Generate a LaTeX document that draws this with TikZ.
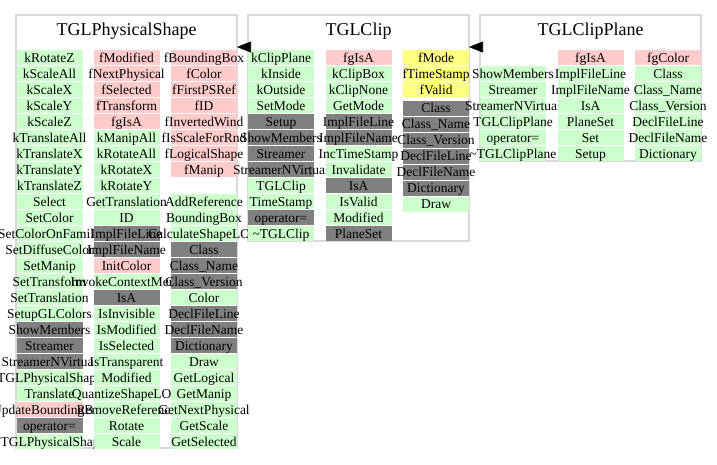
\documentclass[tikz,border=0pt]{standalone}
\usepackage{fontspec}
\setmainfont{Liberation Serif}
\usetikzlibrary{arrows.meta}
\definecolor{cgreen}{HTML}{CCFFCC}
\definecolor{cred}{HTML}{FFCCCC}
\definecolor{cgray}{HTML}{808080}
\definecolor{cyellow}{HTML}{FFFF80}
\definecolor{cframe}{HTML}{D9D9D9}
\tikzset{
  cell/.style={inner sep=0pt, outer sep=0pt, minimum width=66pt, minimum height=15pt,
    text height=12pt, text depth=3pt, font=\fontsize{13.5}{15}\selectfont},
  cg/.style={fill=cgreen}, cr/.style={fill=cred}, ck/.style={fill=cgray}, cy/.style={fill=cyellow},
  frame/.style={draw=cframe, line width=1.4pt, fill=white, inner sep=0pt, outer sep=0pt, anchor=north west},
  title/.style={anchor=base, inner sep=0pt, font=\fontsize{18}{20}\selectfont},
  inh/.style={-{Triangle[length=14pt,width=11pt]}, line width=0.6pt, black}
}
\newcommand\mycol[5]{%
  \foreach \t/\s [count=\i from #3] in {#5} {%
    \node[cell,\s] (#1-\i) at ({#2},{57.5+#4+16*\i}) {\makebox[66pt]{\t}};}}
\begin{document}
\begin{tikzpicture}[x=1pt,y=-1pt]
\useasboundingbox (0,0) rectangle (717,464);
% frames
\node[frame, minimum width=221pt, minimum height=433pt] (phys) at (16,15) {};
\node[frame, minimum width=221pt, minimum height=226pt] (clip) at (248,15) {};
\node[frame, minimum width=221pt, minimum height=146pt] (plane) at (480,15) {};
\node[title] (physT) at (126.5,35.5) {TGLPhysicalShape};
\node[title] (clipT) at (358.5,35.5) {TGLClip};
\node[title] (planeT) at (590.5,35.5) {TGLClipPlane};
% TGLPhysicalShape
\mycol{pa}{49.5}{0}{0}{kRotateZ/cg,kScaleAll/cg,kScaleX/cg,kScaleY/cg,kScaleZ/cg,kTranslateAll/cg,kTranslateX/cg,kTranslateY/cg,kTranslateZ/cg,Select/cg,SetColor/cg,SetColorOnFamily/cg,SetDiffuseColor/cg,SetManip/cg,SetTransform/cg,SetTranslation/cg,SetupGLColors/cg,ShowMembers/ck,Streamer/ck,StreamerNVirtual/ck,TGLPhysicalShape/cg,Translate/cg,UpdateBoundingBox/cr,operator=/ck,\textasciitilde TGLPhysicalShape/cg}
\mycol{pb}{126.5}{0}{0}{fModified/cr,fNextPhysical/cr,fSelected/cr,fTransform/cr,fgIsA/cr,kManipAll/cg,kRotateAll/cg,kRotateX/cg,kRotateY/cg,GetTranslation/cg,ID/cg,ImplFileLine/ck,ImplFileName/ck,InitColor/cr,InvokeContextMenu/cg,IsA/ck,IsInvisible/cg,IsModified/cg,IsSelected/cg,IsTransparent/cg,Modified/cg,QuantizeShapeLOD/cg,RemoveReference/cg,Rotate/cg,Scale/cg}
\mycol{pc}{204}{0}{0}{fBoundingBox/cr,fColor/cr,fFirstPSRef/cr,fID/cr,fInvertedWind/cr,fIsScaleForRnd/cr,fLogicalShape/cr,fManip/cr}
\mycol{pd}{204}{9}{0}{AddReference/cg,BoundingBox/cg,CalculateShapeLOD/cg,Class/ck,Class\_Name/ck,Class\_Version/ck,Color/cg,DeclFileLine/ck,DeclFileName/ck,Dictionary/ck,Draw/cg,GetLogical/cg,GetManip/cg,GetNextPhysical/cg,GetScale/cg,GetSelected/cg}
% TGLClip
\mycol{ca}{281}{0}{0}{kClipPlane/cg,kInside/cg,kOutside/cg,SetMode/cg,Setup/ck,ShowMembers/ck,Streamer/ck,StreamerNVirtual/ck,TGLClip/cg,TimeStamp/cg,operator=/ck,\textasciitilde TGLClip/cg}
\mycol{cb}{358.5}{0}{0}{fgIsA/cr,kClipBox/cg,kClipNone/cg,GetMode/cg,ImplFileLine/ck,ImplFileName/ck,IncTimeStamp/cg,Invalidate/cg,IsA/ck,IsValid/cg,Modified/cg,PlaneSet/ck}
\mycol{cc}{436}{0}{0}{fMode/cy,fTimeStamp/cy,fValid/cy}
\mycol{cd}{436}{3}{2.5}{Class/ck,Class\_Name/ck,Class\_Version/ck,DeclFileLine/ck,DeclFileName/ck,Dictionary/ck,Draw/cg}
% TGLClipPlane
\mycol{la}{513}{1}{0}{ShowMembers/cg,Streamer/cg,StreamerNVirtual/cg,TGLClipPlane/cg,operator=/cg,\textasciitilde TGLClipPlane/cg}
\mycol{lb}{590.5}{0}{0}{fgIsA/cr,ImplFileLine/cg,ImplFileName/cg,IsA/cg,PlaneSet/cg,Set/cg,Setup/cg}
\mycol{lc}{668}{0}{0}{fgColor/cr,Class/cg,Class\_Name/cg,Class\_Version/cg,DeclFileLine/cg,DeclFileName/cg,Dictionary/cg}
% inheritance arrows
\coordinate (y1) at (0,47);
\draw[inh] (clip.west |- y1) -- (phys.east |- y1);
\draw[inh] (plane.west |- y1) -- (clip.east |- y1);
\end{tikzpicture}
\end{document}
